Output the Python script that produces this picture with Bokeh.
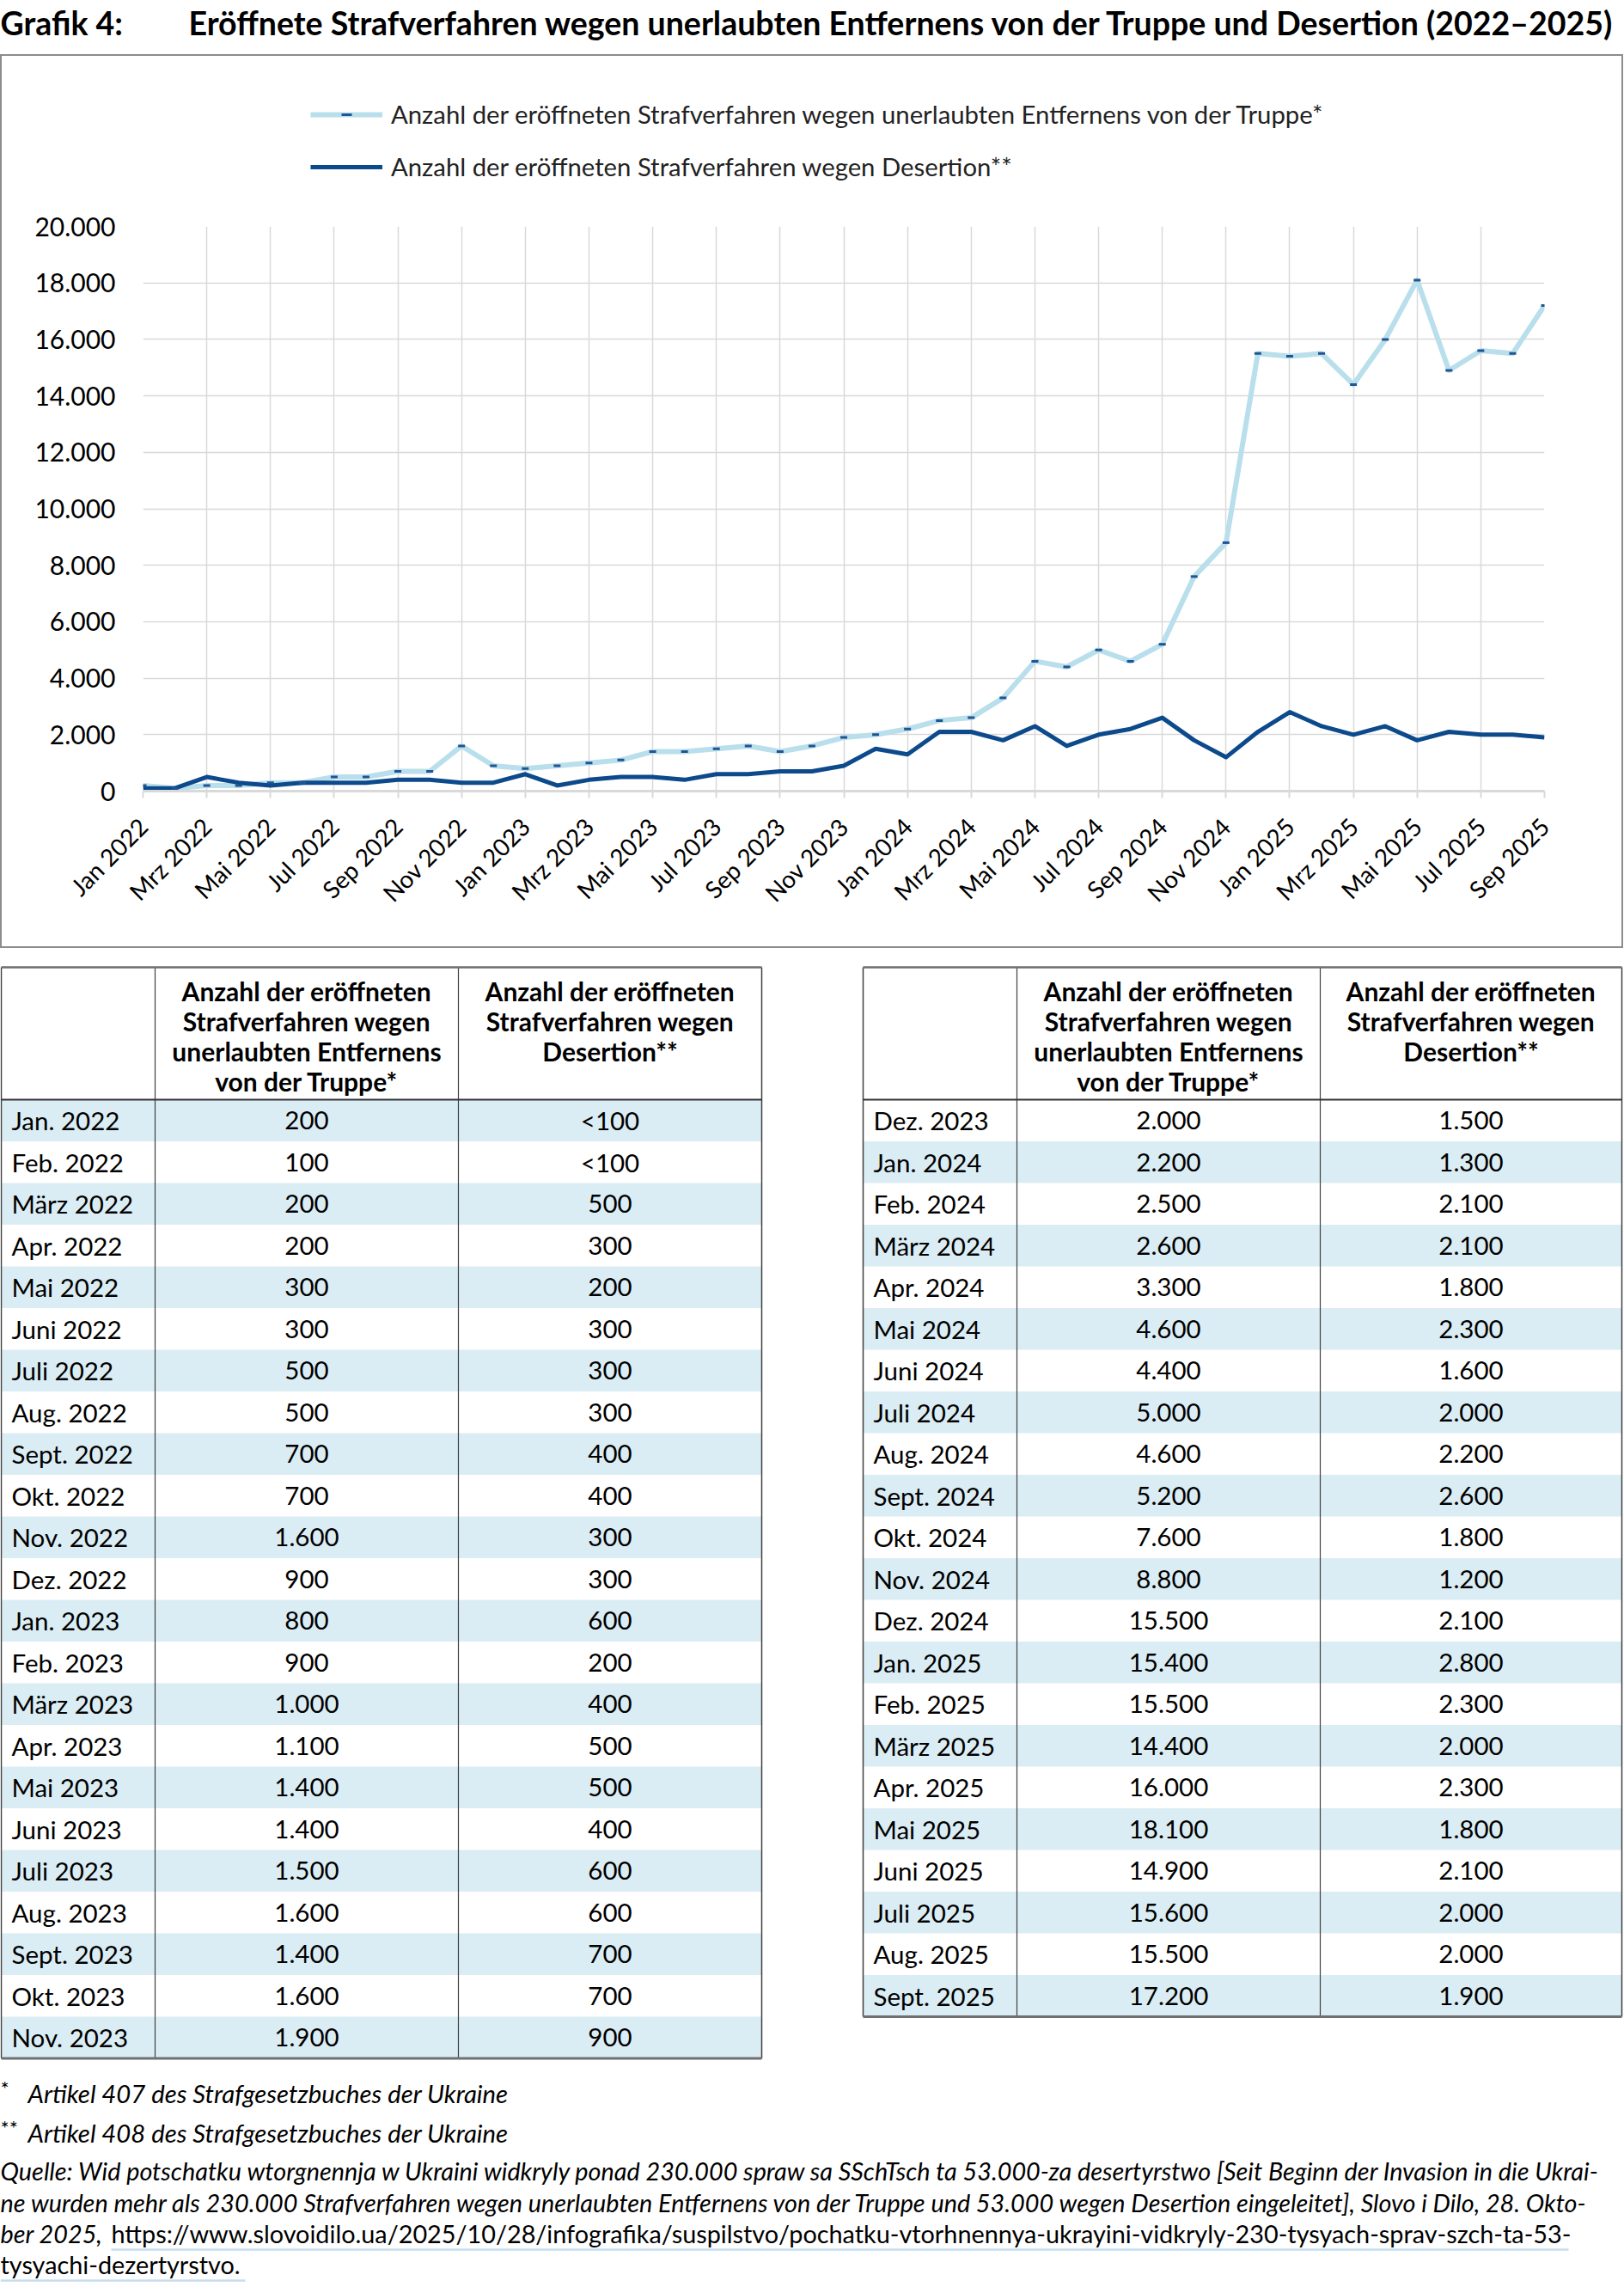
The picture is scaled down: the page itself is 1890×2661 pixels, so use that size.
import math
from bokeh.plotting import figure
from bokeh.models import Range1d, FixedTicker, Legend, LegendItem, ColumnDataSource
from bokeh.layouts import column
from bokeh.embed import file_html
from bokeh.resources import INLINE
from bokeh.core.properties import value

# ---------------- data ----------------
tick_labels = ["Jan 2022", "Mrz 2022", "Mai 2022", "Jul 2022", "Sep 2022", "Nov 2022",
               "Jan 2023", "Mrz 2023", "Mai 2023", "Jul 2023", "Sep 2023", "Nov 2023",
               "Jan 2024", "Mrz 2024", "Mai 2024", "Jul 2024", "Sep 2024", "Nov 2024",
               "Jan 2025", "Mrz 2025", "Mai 2025", "Jul 2025", "Sep 2025"]

months = ["Jan. 2022", "Feb. 2022", "März 2022", "Apr. 2022", "Mai 2022", "Juni 2022",
          "Juli 2022", "Aug. 2022", "Sept. 2022", "Okt. 2022", "Nov. 2022", "Dez. 2022",
          "Jan. 2023", "Feb. 2023", "März 2023", "Apr. 2023", "Mai 2023", "Juni 2023",
          "Juli 2023", "Aug. 2023", "Sept. 2023", "Okt. 2023", "Nov. 2023", "Dez. 2023",
          "Jan. 2024", "Feb. 2024", "März 2024", "Apr. 2024", "Mai 2024", "Juni 2024",
          "Juli 2024", "Aug. 2024", "Sept. 2024", "Okt. 2024", "Nov. 2024", "Dez. 2024",
          "Jan. 2025", "Feb. 2025", "März 2025", "Apr. 2025", "Mai 2025", "Juni 2025",
          "Juli 2025", "Aug. 2025", "Sept. 2025"]

truppe = [200, 100, 200, 200, 300, 300, 500, 500, 700, 700, 1600, 900,
          800, 900, 1000, 1100, 1400, 1400, 1500, 1600, 1400, 1600, 1900, 2000,
          2200, 2500, 2600, 3300, 4600, 4400, 5000, 4600, 5200, 7600, 8800, 15500,
          15400, 15500, 14400, 16000, 18100, 14900, 15600, 15500, 17200]

desertion = [100, 100, 500, 300, 200, 300, 300, 300, 400, 400, 300, 300,
             600, 200, 400, 500, 500, 400, 600, 600, 700, 700, 900, 1500,
             1300, 2100, 2100, 1800, 2300, 1600, 2000, 2200, 2600, 1800, 1200, 2100,
             2800, 2300, 2000, 2300, 1800, 2100, 2000, 2000, 1900]

desertion_labels = ["<100", "<100"] + [None] * 43

y_ticks = [0, 2000, 4000, 6000, 8000, 10000, 12000, 14000, 16000, 18000, 20000]

legend_labels = ["Anzahl der eröffneten Strafverfahren wegen unerlaubten Entfernens von der Truppe*",
                 "Anzahl der eröffneten Strafverfahren wegen Desertion**"]

header_col1 = ["Anzahl der eröffneten", "Strafverfahren wegen", "unerlaubten Entfernens", "von der Truppe*"]
header_col2 = ["Anzahl der eröffneten", "Strafverfahren wegen", "Desertion**"]

title_num = "Grafik 4:"
title_text = "Eröffnete Strafverfahren wegen unerlaubten Entfernens von der Truppe und Desertion (2022–2025)"

footnote_1 = "Artikel 407 des Strafgesetzbuches der Ukraine"
footnote_2 = "Artikel 408 des Strafgesetzbuches der Ukraine"
source_lines = [
    "Quelle: Wid potschatku wtorgnennja w Ukraini widkryly ponad 230.000 spraw sa SSchTsch ta 53.000-za desertyrstwo [Seit Beginn der Invasion in die Ukrai-",
    "ne wurden mehr als 230.000 Strafverfahren wegen unerlaubten Entfernens von der Truppe und 53.000 wegen Desertion eingeleitet], Slovo i Dilo, 28. Okto-",
    "ber 2025, ",
]
source_url_1 = "https://www.slovoidilo.ua/2025/10/28/infografika/suspilstvo/pochatku-vtorhnennya-ukrayini-vidkryly-230-tysyach-sprav-szch-ta-53-"
source_url_2 = "tysyachi-dezertyrstvo."

# ---------------- styling constants ----------------
FONT = "Lato"
LIGHT = "#b9dfec"
DARK = "#0c4a8c"
MARK = "#1f5593"
STRIPE = "#dbedf4"
GRID = "#d9d9d9"
W = 1889
BOX_W = 1885


def fmt(v):
    return f"{v:,}".replace(",", ".")


def blank_fig(w, h, xr, yr):
    f = figure(width=w, height=h, x_range=xr, y_range=yr, output_backend="svg",
               toolbar_location=None, x_axis_type=None, y_axis_type=None,
               min_border=0, frame_align=False)
    f.outline_line_color = None
    f.grid.visible = False
    return f


# ---------------- title figure ----------------
pt = blank_fig(W, 63, Range1d(0, W), Range1d(63, 0))
pt.text(x=[0, 219], y=[26, 26], text=[title_num, title_text], text_font=value(FONT),
        text_font_style="bold", text_font_size="37.5px", text_baseline="middle",
        text_align="left", text_color="#000000")

# ---------------- shared data ----------------
x_idx = list(range(len(truppe)))
src = ColumnDataSource(dict(x=x_idx, truppe=truppe, desertion=desertion))

# ---------------- legend figure (top part of the chart box) ----------------
pl = blank_fig(BOX_W, 176, Range1d(0, 1), Range1d(0, 1))
lr1 = pl.line("x", "truppe", source=src, line_color=LIGHT, line_width=6)
lr2 = pl.scatter("x", "truppe", source=src, marker="dash", size=8, line_color=MARK, line_width=3)
lr3 = pl.line("x", "desertion", source=src, line_color=DARK, line_width=5)
legend = Legend(items=[LegendItem(label=legend_labels[0], renderers=[lr1, lr2]),
                       LegendItem(label=legend_labels[1], renderers=[lr3])],
                location=(359, 30), orientation="vertical")
legend.label_text_font = FONT
legend.label_text_font_size = "29.3px"
legend.label_text_color = "#222222"
legend.label_height = 30
legend.glyph_height = 30
legend.glyph_width = 84
legend.spacing = 26
legend.label_standoff = 10
legend.padding = 0
legend.margin = 0
legend.border_line_color = None
legend.background_fill_alpha = 0
pl.add_layout(legend, "center")

# ---------------- chart figure ----------------
p = figure(width=BOX_W, height=860, x_range=Range1d(0, len(truppe) - 1), y_range=Range1d(0, 20000),
           output_backend="svg", toolbar_location=None, frame_align=False,
           min_border_left=164, min_border_right=90, min_border_top=22, min_border_bottom=181)
p.outline_line_color = None

xt = list(range(0, len(truppe), 2))
p.xaxis.ticker = FixedTicker(ticks=xt)
p.xaxis.major_label_overrides = {t: lab for t, lab in zip(xt, tick_labels)}
p.xaxis.major_label_orientation = math.pi / 4
p.xaxis.major_label_text_font = FONT
p.xaxis.major_label_text_font_size = "28px"
p.xaxis.major_label_text_color = "#000000"
p.xaxis.major_label_standoff = 28
p.xaxis.axis_line_color = GRID
p.xaxis.axis_line_width = 3
p.xaxis.major_tick_line_color = GRID
p.xaxis.major_tick_line_width = 2
p.xaxis.major_tick_out = 8
p.xaxis.major_tick_in = 0
p.xaxis.minor_tick_line_color = None

p.yaxis.ticker = FixedTicker(ticks=y_ticks)
p.yaxis.major_label_overrides = {t: fmt(t) for t in y_ticks}
p.yaxis.major_label_text_font = FONT
p.yaxis.major_label_text_font_size = "30px"
p.yaxis.major_label_text_color = "#000000"
p.yaxis.major_label_standoff = 26
p.yaxis.axis_line_color = None
p.yaxis.major_tick_line_color = None
p.yaxis.minor_tick_line_color = None

p.xgrid.ticker = FixedTicker(ticks=xt)
p.xgrid.grid_line_color = GRID
p.xgrid.grid_line_width = 1.5
p.ygrid.grid_line_color = GRID
p.ygrid.grid_line_width = 1.5

p.line("x", "truppe", source=src, line_color=LIGHT, line_width=6, line_join="round")
p.line("x", "desertion", source=src, line_color=DARK, line_width=5, line_join="round")
p.scatter("x", "truppe", source=src, marker="dash", size=8, line_color=MARK, line_width=3)

box = column(pl, p, spacing=0, styles={"border": "2px solid #8c8c8c"})

# ---------------- table figure ----------------
TH = 1556
pb = blank_fig(W, TH, Range1d(0, W), Range1d(TH, 0))

HEAD_TOP = 22
HEAD_BOT = 176
ROW_H = 48.5
tables = [
    dict(edges=[1, 180, 533, 886], start=0, n=23),
    dict(edges=[1004, 1183, 1536, 1887], start=23, n=22),
]

for t in tables:
    e = t["edges"]
    idxs = list(range(t["start"], t["start"] + t["n"]))
    tops = [HEAD_BOT + ROW_H * k for k in range(t["n"])]
    mids = [y + ROW_H / 2 for y in tops]
    st = [(y, y + ROW_H) for y, gi in zip(tops, idxs) if gi % 2 == 0]
    pb.quad(left=e[0], right=e[3], top=[a for a, b in st], bottom=[b for a, b in st],
            fill_color=STRIPE, line_color=None)
    bottom = HEAD_BOT + ROW_H * t["n"]
    pb.segment(x0=[e[1], e[2]], y0=[HEAD_TOP, HEAD_TOP], x1=[e[1], e[2]], y1=[bottom, bottom],
               line_color="#404040", line_width=1.2)
    pb.segment(x0=[e[0], e[3]], y0=[HEAD_TOP, HEAD_TOP], x1=[e[0], e[3]], y1=[bottom, bottom],
               line_color="#404040", line_width=1.5)
    pb.segment(x0=[e[0]], y0=[HEAD_TOP], x1=[e[3]], y1=[HEAD_TOP], line_color="#6e6e6e", line_width=2.5)
    pb.segment(x0=[e[0]], y0=[HEAD_BOT], x1=[e[3]], y1=[HEAD_BOT], line_color="#333333", line_width=2)
    pb.segment(x0=[e[0]], y0=[bottom], x1=[e[3]], y1=[bottom], line_color="#707070", line_width=3)
    hy = [HEAD_TOP + 27 + 35 * k for k in range(4)]
    pb.text(x=[(e[1] + e[2]) / 2] * len(header_col1), y=hy[:len(header_col1)], text=header_col1,
            text_font=value(FONT), text_font_style="bold", text_font_size="30px",
            text_align="center", text_baseline="middle", text_color="#000000")
    pb.text(x=[(e[2] + e[3]) / 2] * len(header_col2), y=hy[:len(header_col2)], text=header_col2,
            text_font=value(FONT), text_font_style="bold", text_font_size="30px",
            text_align="center", text_baseline="middle", text_color="#000000")
    pb.text(x=[e[0] + 12] * t["n"], y=mids, text=[months[i] for i in idxs],
            text_font=value(FONT), text_font_size="29.5px", text_align="left",
            text_baseline="middle", text_color="#000000")
    pb.text(x=[(e[1] + e[2]) / 2] * t["n"], y=mids, text=[fmt(truppe[i]) for i in idxs],
            text_font=value(FONT), text_font_size="29.5px", text_align="center",
            text_baseline="middle", text_color="#000000")
    pb.text(x=[(e[2] + e[3]) / 2] * t["n"], y=mids,
            text=[desertion_labels[i] if desertion_labels[i] else fmt(desertion[i]) for i in idxs],
            text_font=value(FONT), text_font_size="29.5px", text_align="center",
            text_baseline="middle", text_color="#000000")

# footnotes
pb.text(x=[0, 0], y=[1326, 1372], text=["*", "**"], text_font=value(FONT),
        text_font_size="24px", text_align="left", text_baseline="middle", text_color="#000000")
pb.text(x=[32, 32], y=[1332, 1378], text=[footnote_1, footnote_2], text_font=value(FONT),
        text_font_style="italic", text_font_size="29.3px", text_align="left",
        text_baseline="middle", text_color="#000000")
pb.text(x=[0, 0, 0], y=[1422, 1459, 1495], text=source_lines, text_font=value(FONT),
        text_font_style="italic", text_font_size="28.8px", text_align="left",
        text_baseline="middle", text_color="#000000")
pb.text(x=[129, 0], y=[1495, 1531], text=[source_url_1, source_url_2], text_font=value(FONT),
        text_font_size="28.8px", text_align="left", text_baseline="middle", text_color="#000000")
pb.segment(x0=[129, 0], y0=[1514, 1550], x1=[1825, 285], y1=[1514, 1550],
           line_color="#c5dcef", line_width=2.5)

layout = column(pt, box, pb, spacing=0)
open("out.html", "w").write(file_html(layout, INLINE))
